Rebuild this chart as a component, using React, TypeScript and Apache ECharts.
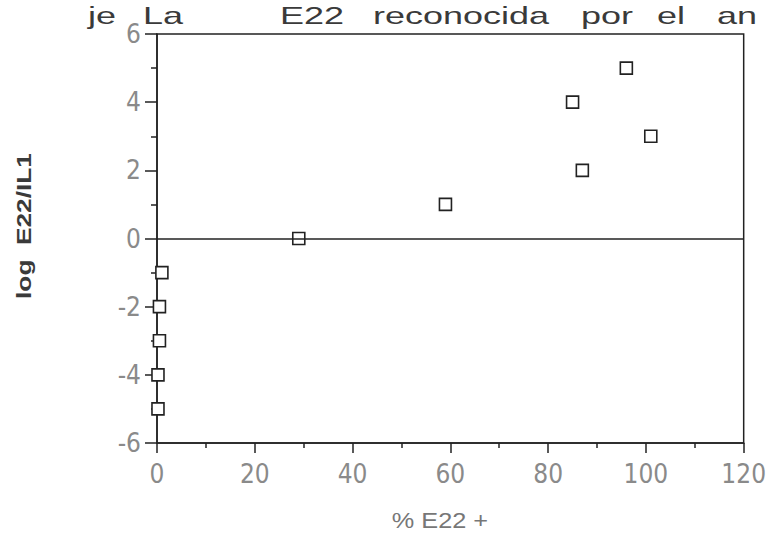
import React, { useEffect, useRef } from "react";
import * as echarts from "echarts";

const titleWords = ["je", "La", "E22", "reconocida", "por", "el", "an"];
const xTicks = [0, 20, 40, 60, 80, 100, 120];
const yTicks = [-6, -4, -2, 0, 2, 4, 6];
const pctE22 = [0.2, 0.2, 0.5, 0.5, 1, 29, 59, 87, 101, 85, 96];
const logRatio = [-5, -4, -3, -2, -1, 0, 1, 2, 3, 4, 5];
const xName = "% E22 +";
const yName = "log  E22/IL1";

export default function App() {
  const ref = useRef<HTMLDivElement>(null);
  useEffect(() => {
    const chart = echarts.init(ref.current!, undefined, { renderer: "svg" });
    const pts = pctE22.map((x, i) => [x, logRatio[i]]);
    const titleX = [88, 143, 280, 373, 581, 657, 717];
    const tickFont = "'Liberation Sans Narrow', 'DejaVu Sans Condensed', 'Liberation Sans', sans-serif";
    chart.setOption({
      animation: false,
      backgroundColor: "#ffffff",
      grid: {
        left: 157,
        right: 14,
        top: 34,
        bottom: 92,
        show: true,
        borderColor: "#222",
        borderWidth: 1.5,
        backgroundColor: "transparent",
      },
      graphic: [
        ...titleWords.map((w, i) => ({
          type: "text",
          x: titleX[i],
          y: 15,
          scaleX: 1.5,
          style: {
            text: w,
            font: "24px 'Liberation Sans', Arial, sans-serif",
            fill: "#3a3a3a",
            align: "left",
            verticalAlign: "middle",
          },
        })),
        {
          type: "text",
          x: 440,
          y: 521,
          scaleX: 1.15,
          style: {
            text: xName,
            font: "22px 'Liberation Sans', Arial, sans-serif",
            fill: "#777",
            align: "center",
            verticalAlign: "middle",
          },
        },
        {
          type: "text",
          x: 23,
          y: 226,
          rotation: Math.PI / 2,
          scaleX: 1.25,
          style: {
            text: yName,
            font: "bold 21px 'Liberation Sans', Arial, sans-serif",
            fill: "#3a3a3a",
            align: "center",
            verticalAlign: "middle",
          },
        },
      ],
      xAxis: {
        type: "value",
        min: 0,
        max: 120,
        interval: 20,
        axisLine: { show: true, onZero: false, lineStyle: { color: "#222", width: 1.5 } },
        axisTick: { show: true, length: 10, lineStyle: { color: "#222", width: 1.5 } },
        minorTick: { show: true, splitNumber: 2, length: 5, lineStyle: { color: "#222", width: 1.5 } },
        splitLine: { show: false },
        axisLabel: { color: "#8a8a8a", fontSize: 26, margin: 18, fontFamily: tickFont, customValues: xTicks },
      },
      yAxis: {
        type: "value",
        min: -6,
        max: 6,
        interval: 2,
        axisLine: { show: true, onZero: false, lineStyle: { color: "#222", width: 1.5 } },
        axisTick: { show: true, length: 12, lineStyle: { color: "#222", width: 1.5 } },
        minorTick: { show: true, splitNumber: 2, length: 6, lineStyle: { color: "#222", width: 1.5 } },
        splitLine: { show: false },
        axisLabel: { color: "#8a8a8a", fontSize: 26, margin: 16, fontFamily: tickFont, customValues: yTicks },
      },
      series: [
        {
          type: "scatter",
          data: pts,
          symbol: "rect",
          symbolSize: 12,
          itemStyle: { color: "#ffffff", borderColor: "#222", borderWidth: 1.6, opacity: 1 },
          markLine: {
            silent: true,
            symbol: ["none", "none"],
            label: { show: false },
            lineStyle: { color: "#222", width: 1.5, type: "solid" },
            data: [{ yAxis: 0 }],
          },
          z: 3,
        },
      ],
    });
    return () => chart.dispose();
  }, []);
  return <div ref={ref} style={{ width: 769, height: 535, position: "absolute", left: 0, top: 0 }} />;
}
